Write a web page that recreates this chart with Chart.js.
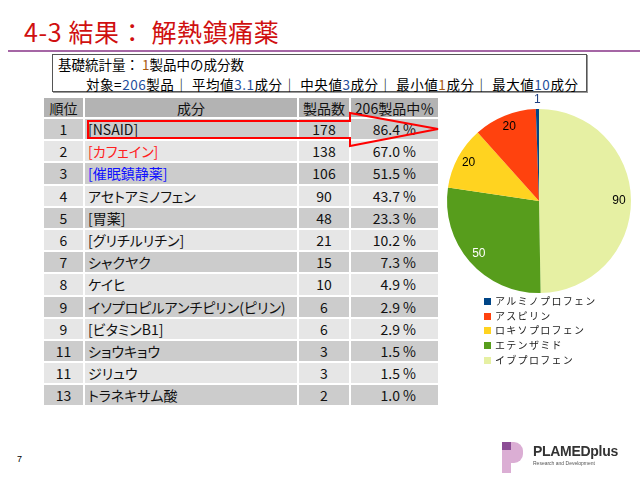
<!DOCTYPE html>
<html>
<head>
<meta charset="utf-8">
<script src="https://cdn.jsdelivr.net/npm/chart.js@4"></script>
<style>
  html, body { margin: 0; padding: 0; }
  body {
    width: 640px; height: 480px; position: relative; overflow: hidden;
    background: #fff; font-family: "Noto Sans CJK JP", sans-serif;
  }
  .title {
    position: absolute; left: 24px; top: 13px; font-size: 25px; color: #d01010;
    line-height: 36px; white-space: nowrap; letter-spacing: 0.6px;
  }
  .rule { position: absolute; left: 8px; top: 50px; width: 632px; height: 2px; background: #a566a5; }
  .stats {
    position: absolute; left: 52px; top: 54px; width: 533px; height: 36px;
    border: 1px solid #555; box-shadow: 1px 1px 0 #999;
    font-size: 13.5px; line-height: 19px; color: #000; white-space: nowrap;
  }
  .stats .l1 { position: absolute; left: 5px; top: 0px; }
  .stats .l2 { position: absolute; left: 33px; top: 19.5px; letter-spacing: 0.55px; }
  .stats .b { color: #1f4e9c; }
  .stats .o { color: #a85a10; }
  #tbl {
    position: absolute; left: 42px; top: 96px;
    border-collapse: separate; border-spacing: 2px;
    font-size: 14px; color: #111; font-feature-settings: "palt";
  }
  #tbl td, #tbl th { padding: 0; white-space: nowrap; line-height: 18px; }
  #tbl th { background: #b3b3b3; font-weight: normal; height: 19px; text-align: center; font-size: 14px; }
  #tbl tr.odd td { background: #cccccc; }
  #tbl tr.even td { background: #e6e6e6; }
  #tbl td { height: 20.2px; }
  #tbl td.rank { text-align: center; }
  #tbl td.name { text-align: left; padding-left: 3px; }
  #tbl td.cnt { text-align: center; }
  #tbl td.pct { text-align: right; padding-right: 22px; }
  #arrow { position: absolute; left: 0; top: 0; }
  #pie { position: absolute; left: 437px; top: 90px; }
  #legend {
    position: absolute; left: 484px; top: 294px; font-size: 10px; color: #222;
    letter-spacing: 1.3px;
  }
  #legend .item { height: 14.7px; line-height: 14px; white-space: nowrap; }
  #legend .sw { display: inline-block; width: 7px; height: 7px; margin-right: 4px; vertical-align: 0px; }
  .page { position: absolute; left: 17px; top: 454px; font-size: 9px; font-family: "Liberation Sans", sans-serif; }
  .logo-sq { position: absolute; left: 502px; top: 442px; width: 9px; height: 8px; background: #8c4d95; }
  .logo-bar { position: absolute; left: 502px; top: 450px; width: 9px; height: 23px; background: #dbaed4; }
  .logo-bowl { position: absolute; left: 511px; top: 442px; width: 12px; height: 21px; background: #dbaed4; border-radius: 0 9px 9px 0; }
  .logo-t1 { position: absolute; left: 533px; top: 443px; font: bold 14px "Liberation Sans", sans-serif; color: #333; letter-spacing: -0.3px; }
  .logo-t2 { position: absolute; left: 533px; top: 460px; font: 5px "Liberation Sans", sans-serif; color: #555; }
</style>
</head>
<body>
<div class="title">4-3 結果： 解熱鎮痛薬</div>
<div class="rule"></div>
<div class="stats">
  <div class="l1">基礎統計量： <span class="o">1</span>製品中の成分数</div>
  <div class="l2">対象=<span class="b">206</span>製品｜ 平均値<span class="b">3.1</span>成分｜ 中央値<span class="b">3</span>成分｜ 最小値<span class="o">1</span>成分｜ 最大値<span class="b">10</span>成分</div>
</div>

<table id="tbl"></table>

<svg id="arrow" width="640" height="480">
  <polygon points="88,121 350,121 350,113 438,129 350,146 350,138 88,138"
           fill="none" stroke="#ff0000" stroke-width="2" />
</svg>

<canvas id="pie" width="204" height="222"></canvas>
<div id="legend"></div>

<div class="page">7</div>
<div class="logo-sq"></div><div class="logo-bar"></div><div class="logo-bowl"></div>
<div class="logo-t1">PLAMEDplus</div>
<div class="logo-t2">Research and Development</div>

<script>
// table data
const ranks = [1, 2, 3, 4, 5, 6, 7, 8, 9, 9, 11, 11, 13];
const ingredients = ['[NSAID]', '[カフェイン]', '[催眠鎮静薬]', 'アセトアミノフェン', '[胃薬]',
  '[グリチルリチン]', 'シャクヤク', 'ケイヒ', 'イソプロピルアンチピリン(ピリン)', '[ビタミンB1]',
  'ショウキョウ', 'ジリュウ', 'トラネキサム酸'];
const productCounts = [178, 138, 106, 90, 48, 21, 15, 10, 6, 6, 3, 3, 2];
const percents = ['86.4', '67.0', '51.5', '43.7', '23.3', '10.2', '7.3', '4.9', '2.9', '2.9', '1.5', '1.5', '1.0'];
const headers = ['順位', '成分', '製品数', '206製品中％'];

// NSAID breakdown (pie), clockwise from the top
const nsaidNames = ['イブプロフェン', 'エテンザミド', 'ロキソプロフェン', 'アスピリン', 'アルミノプロフェン'];
const nsaidCounts = [90, 50, 20, 20, 1];

const sliceColors = ['#e6f0a3', '#579d1c', '#ffd320', '#ff420e', '#004586'];
const nameColors = { '[カフェイン]': '#ff2020', '[催眠鎮静薬]': '#1010ff' };
const colWidths = [39, 212, 50, 87];

// build table
const tbl = document.getElementById('tbl');
let html = '<tr>' + headers.map((h, i) => `<th style="width:${colWidths[i]}px">${h}</th>`).join('') + '</tr>';
ranks.forEach((r, i) => {
  const c = nameColors[ingredients[i]] || '#111';
  html += `<tr class="${i % 2 === 0 ? 'odd' : 'even'}">
    <td class="rank">${r}</td>
    <td class="name" style="color:${c}">${ingredients[i]}</td>
    <td class="cnt">${productCounts[i]}</td>
    <td class="pct">${percents[i]} %</td></tr>`;
});
tbl.innerHTML = html;

// value labels on the slices
const sliceLabels = {
  id: 'sliceLabels',
  afterDatasetsDraw(chart) {
    const ctx = chart.ctx;
    const meta = chart.getDatasetMeta(0);
    const total = nsaidCounts.reduce((a, b) => a + b, 0);
    ctx.save();
    ctx.font = '12px "Liberation Sans", "DejaVu Sans", sans-serif';
    ctx.textAlign = 'center';
    ctx.textBaseline = 'middle';
    meta.data.forEach((arc, i) => {
      const p = arc.getProps(['x', 'y', 'startAngle', 'endAngle', 'outerRadius']);
      const mid = (p.startAngle + p.endAngle) / 2;
      const small = nsaidCounts[i] / total < 0.02;
      const r = small ? p.outerRadius + 9 : p.outerRadius * 0.87;
      ctx.fillStyle = small ? '#1f3f7f' : (i === 1 ? '#ffffff' : '#000000');
      ctx.fillText(String(nsaidCounts[i]), p.x + Math.cos(mid) * r, p.y + Math.sin(mid) * r);
    });
    ctx.restore();
  }
};

new Chart(document.getElementById('pie'), {
  type: 'pie',
  data: {
    labels: nsaidNames,
    datasets: [{ data: nsaidCounts, backgroundColor: sliceColors, borderWidth: 0 }]
  },
  options: {
    responsive: false,
    animation: false,
    layout: { padding: { left: 10, right: 10, top: 19, bottom: 19 } },
    plugins: { legend: { display: false }, tooltip: { enabled: false } }
  },
  plugins: [sliceLabels]
});

// legend, listed in reverse order like the original
const legend = document.getElementById('legend');
legend.innerHTML = nsaidNames.map((n, i) =>
  `<div class="item"><span class="sw" style="background:${sliceColors[i]}"></span>${n}</div>`
).reverse().join('');
</script>
</body>
</html>
